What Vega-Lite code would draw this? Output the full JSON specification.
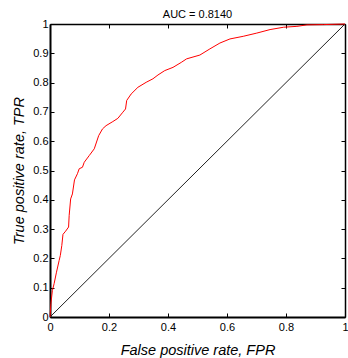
{
  "$schema": "https://vega.github.io/schema/vega-lite/v6.json",
  "autosize": "none",
  "width": 295,
  "height": 293,
  "padding": {"left": 50, "top": 24, "right": 3, "bottom": 41},
  "background": "white",
  "title": {"text": "AUC = 0.8140", "fontSize": 11, "font": "Liberation Sans", "fontWeight": "normal", "color": "#000", "offset": -2},
  "config": {"view": {"stroke": null}},
  "datasets": {
    "roc": [
      {"fpr": 0, "tpr": 0}, {"fpr": 0.003, "tpr": 0.045}, {"fpr": 0.008, "tpr": 0.09},
      {"fpr": 0.014, "tpr": 0.114}, {"fpr": 0.022, "tpr": 0.153}, {"fpr": 0.031, "tpr": 0.193},
      {"fpr": 0.035, "tpr": 0.21}, {"fpr": 0.04, "tpr": 0.244}, {"fpr": 0.044, "tpr": 0.282},
      {"fpr": 0.053, "tpr": 0.293}, {"fpr": 0.063, "tpr": 0.307}, {"fpr": 0.065, "tpr": 0.347},
      {"fpr": 0.07, "tpr": 0.403}, {"fpr": 0.076, "tpr": 0.42}, {"fpr": 0.083, "tpr": 0.468},
      {"fpr": 0.093, "tpr": 0.489}, {"fpr": 0.099, "tpr": 0.506}, {"fpr": 0.11, "tpr": 0.511},
      {"fpr": 0.116, "tpr": 0.528}, {"fpr": 0.133, "tpr": 0.551}, {"fpr": 0.15, "tpr": 0.574},
      {"fpr": 0.165, "tpr": 0.619}, {"fpr": 0.178, "tpr": 0.642}, {"fpr": 0.19, "tpr": 0.653},
      {"fpr": 0.213, "tpr": 0.667}, {"fpr": 0.23, "tpr": 0.678}, {"fpr": 0.247, "tpr": 0.699},
      {"fpr": 0.256, "tpr": 0.71}, {"fpr": 0.26, "tpr": 0.739}, {"fpr": 0.275, "tpr": 0.761},
      {"fpr": 0.298, "tpr": 0.784}, {"fpr": 0.326, "tpr": 0.801}, {"fpr": 0.349, "tpr": 0.813},
      {"fpr": 0.366, "tpr": 0.826}, {"fpr": 0.389, "tpr": 0.841}, {"fpr": 0.417, "tpr": 0.852},
      {"fpr": 0.445, "tpr": 0.869}, {"fpr": 0.463, "tpr": 0.881}, {"fpr": 0.508, "tpr": 0.894},
      {"fpr": 0.542, "tpr": 0.915}, {"fpr": 0.576, "tpr": 0.935}, {"fpr": 0.61, "tpr": 0.949},
      {"fpr": 0.655, "tpr": 0.958}, {"fpr": 0.701, "tpr": 0.969}, {"fpr": 0.746, "tpr": 0.981},
      {"fpr": 0.792, "tpr": 0.989}, {"fpr": 0.837, "tpr": 0.992}, {"fpr": 0.871, "tpr": 0.997},
      {"fpr": 0.928, "tpr": 0.998}, {"fpr": 1, "tpr": 1}
    ],
    "diag": [{"fpr": 0, "tpr": 0}, {"fpr": 1, "tpr": 1}]
  },
  "resolve": {"axis": {"x": "independent", "y": "independent"}},
  "layer": [
    {
      "data": {"name": "diag"},
      "mark": {"type": "line", "color": "#222222", "strokeWidth": 1},
      "encoding": {
        "x": {"field": "fpr", "type": "quantitative", "scale": {"domain": [0, 1], "nice": false},
          "axis": {"orient": "top", "labels": false, "title": null, "grid": false, "values": [0, 0.2, 0.4, 0.6, 0.8, 1],
            "tickSize": -4, "tickColor": "#000", "domainColor": "#000", "domainWidth": 1.5, "tickWidth": 1}},
        "y": {"field": "tpr", "type": "quantitative", "scale": {"domain": [0, 1], "nice": false},
          "axis": {"orient": "right", "labels": false, "title": null, "grid": false, "values": [0, 0.1, 0.2, 0.3, 0.4, 0.5, 0.6, 0.7, 0.8, 0.9, 1],
            "tickSize": -4, "tickColor": "#000", "domainColor": "#000", "domainWidth": 1.5, "tickWidth": 1}}
      }
    },
    {
      "data": {"name": "roc"},
      "mark": {"type": "line", "color": "#ff0000", "strokeWidth": 1},
      "encoding": {
        "x": {"field": "fpr", "type": "quantitative", "scale": {"domain": [0, 1], "nice": false},
          "axis": {"orient": "bottom", "title": "False positive rate, FPR", "grid": false, "values": [0, 0.2, 0.4, 0.6, 0.8, 1], "format": "~g",
            "tickSize": -4, "tickColor": "#000", "domainColor": "#000", "domainWidth": 2, "tickWidth": 1,
            "labelFont": "Liberation Sans", "labelFontSize": 11, "labelColor": "#000", "labelPadding": 8, "labelFlush": false,
            "titleFont": "Liberation Sans", "titleFontSize": 14.5, "titleFontStyle": "italic", "titleFontWeight": "normal", "titleColor": "#000", "titlePadding": 11}},
        "y": {"field": "tpr", "type": "quantitative", "scale": {"domain": [0, 1], "nice": false},
          "axis": {"orient": "left", "title": "True positive rate, TPR", "grid": false, "values": [0, 0.1, 0.2, 0.3, 0.4, 0.5, 0.6, 0.7, 0.8, 0.9, 1], "format": "~g",
            "tickSize": -4, "tickColor": "#000", "domainColor": "#000", "domainWidth": 2, "tickWidth": 1,
            "labelFont": "Liberation Sans", "labelFontSize": 11, "labelColor": "#000", "labelPadding": 6, "labelFlush": false,
            "titleFont": "Liberation Sans", "titleFontSize": 14.5, "titleFontStyle": "italic", "titleFontWeight": "normal", "titleColor": "#000", "titlePadding": 6}}
      }
    }
  ]
}
